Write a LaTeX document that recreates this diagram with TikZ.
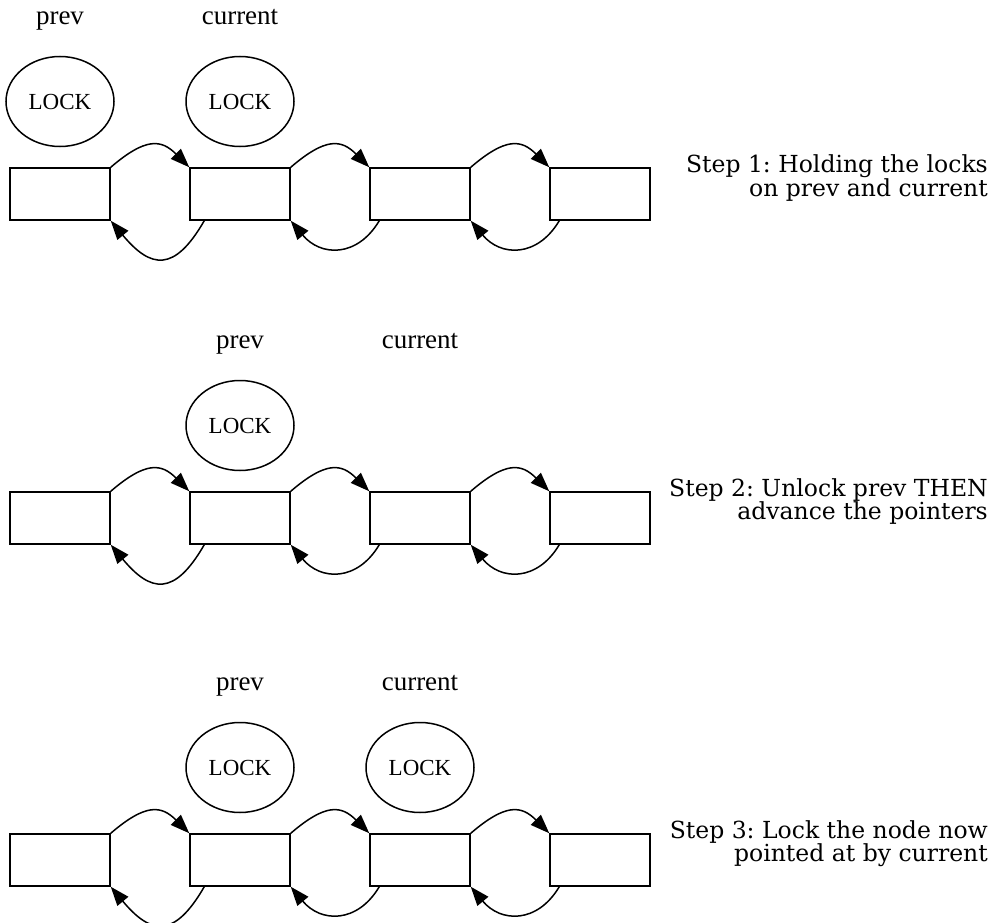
\documentclass[tikz,border=0pt]{standalone}
\usepackage{fontspec}
\setmainfont{Liberation Serif}
\newfontfamily\stepfont{DejaVu Serif}
\usetikzlibrary{calc,positioning,shapes.geometric,arrows.meta}
\frenchspacing

\tikzset{
  cell/.style={draw, line width=1.5pt, minimum width=100pt, minimum height=52pt, inner sep=0pt},
  lock/.style={draw, ellipse, line width=1.5pt, minimum width=108pt, minimum height=90pt,
    inner sep=0pt, font=\fontsize{23}{23}\selectfont},
  tag/.style={anchor=base, inner sep=0pt, font=\fontsize{27}{27}\selectfont},
  steptext/.style={anchor=east, align=right, inner sep=0pt, font=\stepfont\fontsize{23.5}{23}\selectfont},
  link/.style={line width=1.5pt, -{Triangle[length=19pt,width=14pt]}}
}

\begin{document}
\begin{tikzpicture}[x=1pt,y=-1pt]
  \useasboundingbox (0,0) rectangle (996,923);

  % three rows of list cells with next/prev links
  \foreach \r/\y in {a/194,b/518,c/860} {
    \foreach \i/\x in {1/60,2/240,3/420,4/600}
      \node[cell] (\r\i) at (\x,\y) {};
    \foreach \i/\j in {1/2,2/3,3/4}
      \draw[link] (\r\i.north east) .. controls +(35,-30) and +(-28,-28) .. (\r\j.north west);
    \draw[link] ($(\r2.south west)+(15,0)$) .. controls +(-30,52) and +(40,48) .. (\r1.south east);
    \foreach \i/\j in {3/2,4/3}
      \draw[link] ($(\r\i.south west)+(10,0)$) .. controls +(-22,37) and +(30,36) .. (\r\j.south east);
  }

  % step 1
  \node[lock, above=20pt of a1] (alock1) {LOCK};
  \node[lock, above=20pt of a2] (alock2) {LOCK};
  \node[tag] (aprev) at ($(a1.north)+(0,-143)$) {prev};
  \node[tag] (acur) at ($(a2.north)+(0,-143)$) {current};
  \node[steptext] (s1) at (988,178) {Step 1: Holding the locks\\on prev and current};

  % step 2
  \node[lock, above=20pt of b2] (block2) {LOCK};
  \node[tag] (bprev) at ($(b2.north)+(0,-143)$) {prev};
  \node[tag] (bcur) at ($(b3.north)+(0,-143)$) {current};
  \node[steptext] (s2) at (988,502) {Step 2: Unlock prev THEN\\advance the pointers};

  % step 3
  \node[lock, above=20pt of c2] (clock2) {LOCK};
  \node[lock, above=20pt of c3] (clock3) {LOCK};
  \node[tag] (cprev) at ($(c2.north)+(0,-143)$) {prev};
  \node[tag] (ccur) at ($(c3.north)+(0,-143)$) {current};
  \node[steptext] (s3) at (988,844) {Step 3: Lock the node now\\pointed at by current};
\end{tikzpicture}
\end{document}
